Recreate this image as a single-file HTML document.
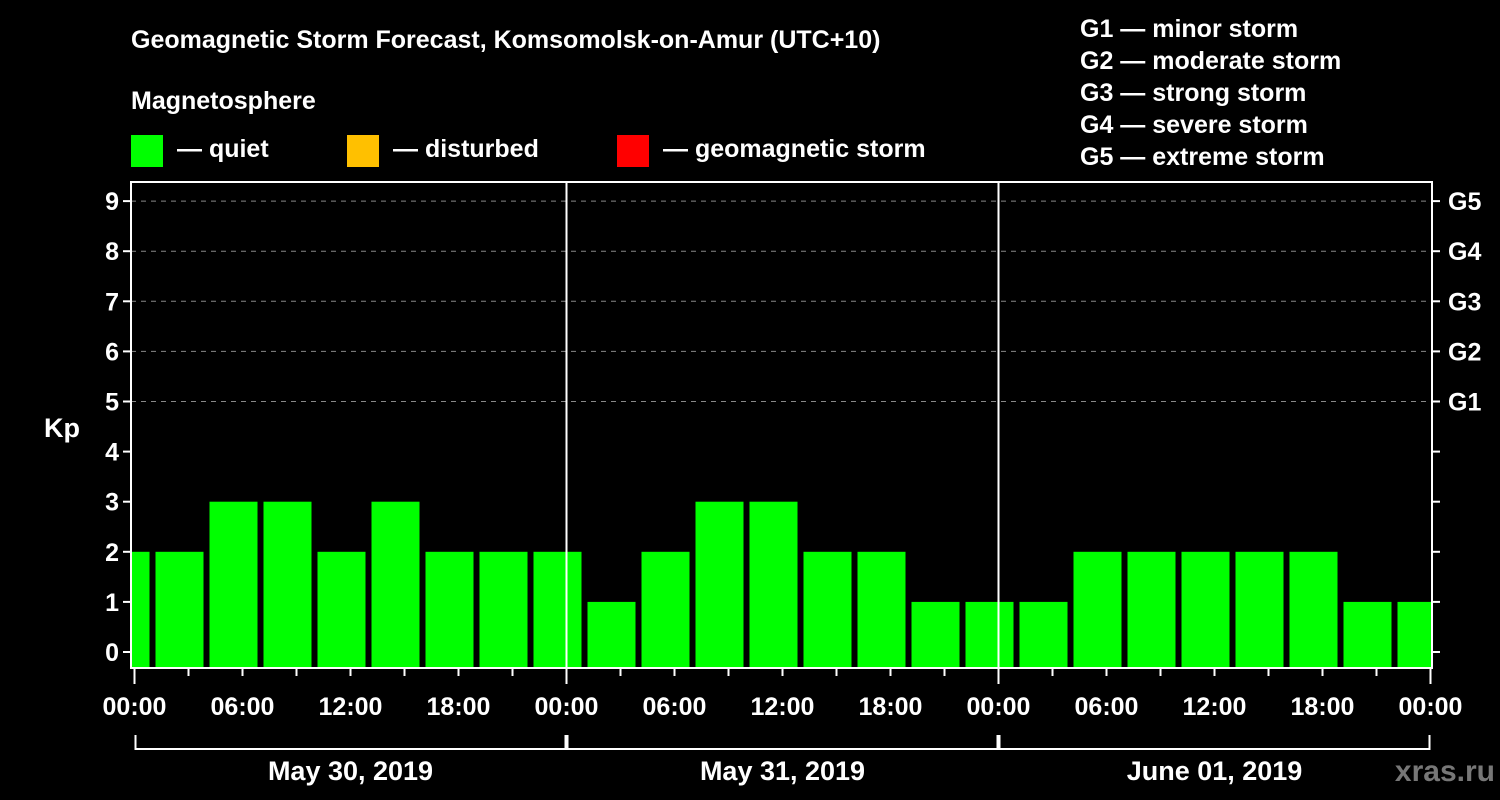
<!DOCTYPE html>
<html><head><meta charset="utf-8"><style>
body{margin:0;background:#000;}
svg{display:block;font-family:"Liberation Sans",Arial,sans-serif;font-weight:bold;}
</style></head><body>
<svg id="c" width="1500" height="800" viewBox="0 0 1500 800">
<rect width="1500" height="800" fill="#000"/>
<text x="131" y="48" fill="#fff" font-size="25">Geomagnetic Storm Forecast, Komsomolsk-on-Amur (UTC+10)</text>
<text x="131" y="109" fill="#fff" font-size="25">Magnetosphere</text>
<g><rect x="131" y="135" width="32" height="32" fill="#00ff00"/><text x="177" y="157" fill="#fff" font-size="25">— quiet</text></g>
<g><rect x="347" y="135" width="32" height="32" fill="#ffc000"/><text x="393" y="157" fill="#fff" font-size="25">— disturbed</text></g>
<g><rect x="617" y="135" width="32" height="32" fill="#ff0000"/><text x="663" y="157" fill="#fff" font-size="25">— geomagnetic storm</text></g>
<g fill="#fff" font-size="25">
<text x="1080" y="37">G1 — minor storm</text>
<text x="1080" y="69">G2 — moderate storm</text>
<text x="1080" y="101">G3 — strong storm</text>
<text x="1080" y="133">G4 — severe storm</text>
<text x="1080" y="165">G5 — extreme storm</text>
</g>
<text x="62" y="437" fill="#fff" font-size="27" text-anchor="middle">Kp</text>
<g id="grid"></g><g id="bars"></g><g id="axes"></g>
<text x="1495" y="781" fill="#777" font-size="30" text-anchor="end">xras.ru</text>
</svg>
<script>
const kpValues=[2,2,3,3,2,3,2,2,2,1,2,3,3,2,2,1,1,1,2,2,2,2,2,1,1];
const yTicks=[0,1,2,3,4,5,6,7,8,9];
const gLabels=["G1","G2","G3","G4","G5"];
const hourLabels=["00:00","06:00","12:00","18:00"];
const dayLabels=["May 30, 2019","May 31, 2019","June 01, 2019"];
const NS="http://www.w3.org/2000/svg";
const L=131,R=1432,T=182,B=668;
const X=h=>134.5+h*18;
const Y=v=>652-v*50.1;
function mk(t,a,p){const e=document.createElementNS(NS,t);for(const k in a)e.setAttribute(k,a[k]);p.appendChild(e);return e;}
const grid=document.getElementById('grid'),bars=document.getElementById('bars'),axes=document.getElementById('axes');
mk('clipPath',{id:'cp'},document.getElementById('c'));
mk('rect',{x:L,y:T,width:R-L,height:B-T},document.getElementById('cp'));
bars.setAttribute('clip-path','url(#cp)');
yTicks.forEach(v=>{
 if(v>=5){const g=mk('line',{x1:L,x2:R,y1:Y(v),y2:Y(v),stroke:'#888','stroke-dasharray':'5,5','stroke-width':1},grid);
 
 }
 mk('line',{x1:L-8,x2:L,y1:Y(v),y2:Y(v),stroke:'#fff','stroke-width':2},axes);
 mk('line',{x1:R,x2:R+8,y1:Y(v),y2:Y(v),stroke:'#fff','stroke-width':2},axes);
 const t=mk('text',{x:L-12,y:Y(v)+9,fill:'#fff','font-size':25,'text-anchor':'end'},axes);t.textContent=v;
 
 
});
gLabels.forEach((g,i)=>{const t=mk('text',{x:R+16,y:Y(5+i)+9,fill:'#fff','font-size':25},axes);t.textContent=g;
 
 });
kpValues.forEach((v,i)=>{const c=3*i-0.5;
 const r=mk('rect',{x:X(c)-24,y:Y(v),width:48,height:B-Y(v),fill:v>=5?'#ff0000':(v>=4?'#ffc000':'#00ff00')},bars);
 
 });
mk('rect',{x:L,y:T,width:R-L,height:B-T,fill:'none',stroke:'#fff','stroke-width':2},axes);
[1,2].forEach(d=>mk('line',{x1:X(24*d),x2:X(24*d),y1:T,y2:B,stroke:'#fff','stroke-width':2},axes));
for(let h=0;h<=72;h+=3){const day=h%24===0;mk('line',{x1:X(h),x2:X(h),y1:B,y2:B+(day?16:8),stroke:'#fff','stroke-width':2},axes);}
for(let h=0;h<=72;h+=6){const t=mk('text',{x:X(h),y:715,fill:'#fff','font-size':25,'text-anchor':'middle'},axes);t.textContent=hourLabels[(h/6)%4];
 
 }
dayLabels.forEach((d,i)=>{mk('path',{d:`M${X(24*i)+1} 735V749H${X(24*i+24)-1}V735`,stroke:'#fff','stroke-width':2,fill:'none'},axes);
 const t=mk('text',{x:X(24*i+12),y:780,fill:'#fff','font-size':27,'text-anchor':'middle'},axes);t.textContent=d;
 
 });
</script>
</body></html>
